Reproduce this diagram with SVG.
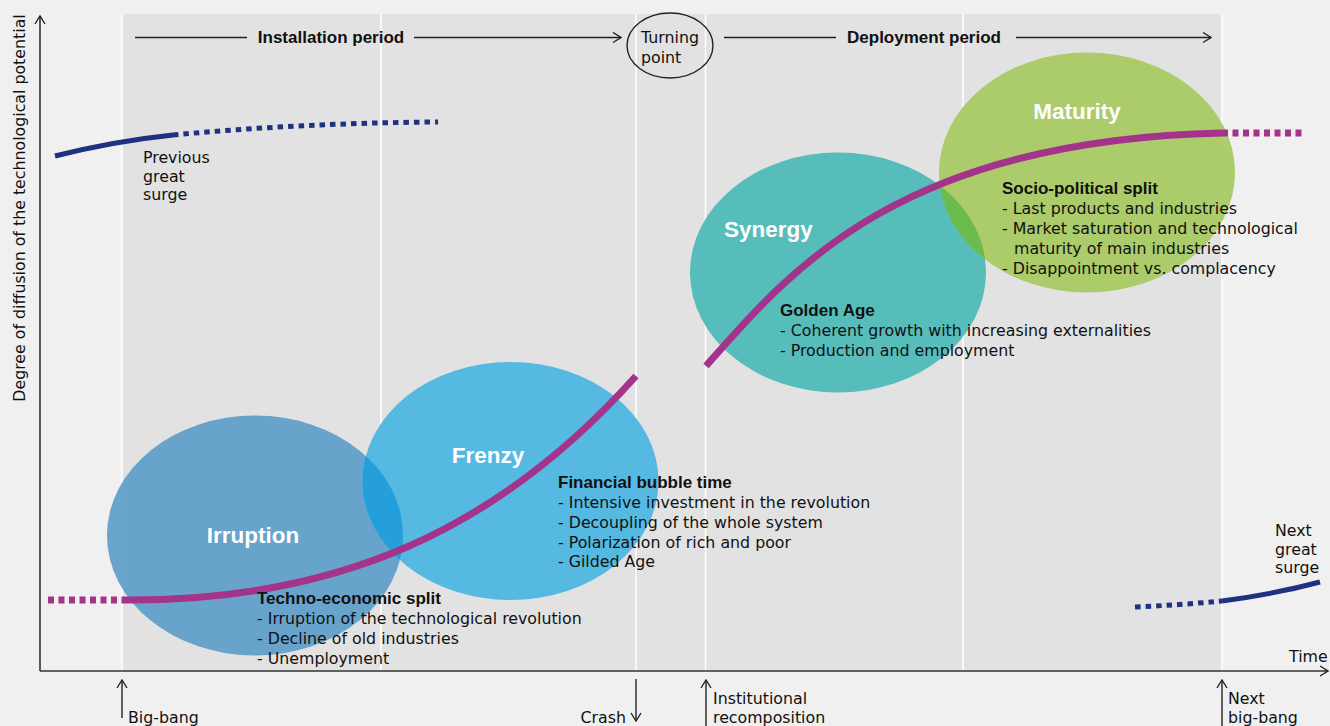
<svg xmlns="http://www.w3.org/2000/svg" width="1330" height="726" viewBox="0 0 1330 726">
<style>
text{font-family:"Liberation Sans","DejaVu Sans",sans-serif;fill:#111}
.t{font-family:"DejaVu Sans","Liberation Sans",sans-serif;font-size:15.8px}
.b{font-size:17px;font-weight:bold}
.big{font-size:22.5px;font-weight:bold;fill:#fff}
.ax{stroke:#333;stroke-width:1.6;fill:none}
.vl{stroke:#fff;stroke-width:1.5}
.mg{stroke:#a3338b;stroke-width:7;fill:none}
.mgd{stroke:#a3338b;stroke-width:7;fill:none;stroke-dasharray:6 4.5}
.nv{stroke:#1f3282;stroke-width:5;fill:none}
.nvd{stroke:#1f3282;stroke-width:5;fill:none;stroke-dasharray:5.5 5}
.ar{stroke:#222;stroke-width:1.4;fill:none}
</style>
<defs>
<marker id="chev" viewBox="0 0 10 12" refX="9" refY="6" markerWidth="10" markerHeight="12" markerUnits="userSpaceOnUse" orient="auto">
<path d="M1,1 L9,6 L1,11" fill="none" stroke="#222" stroke-width="1.4"/>
</marker>
<clipPath id="cIrr"><ellipse cx="255" cy="535.5" rx="148" ry="120"/></clipPath>
<clipPath id="cSyn"><ellipse cx="838" cy="272.5" rx="148" ry="120"/></clipPath>
</defs>
<rect width="1330" height="726" fill="#f0f0f0"/>
<rect x="122" y="14" width="1100" height="657" fill="#e2e2e2"/>
<g id="gridlines">
<line class="vl" x1="122" y1="14" x2="122" y2="671"/>
<line class="vl" x1="381" y1="14" x2="381" y2="671"/>
<line class="vl" x1="636" y1="14" x2="636" y2="671"/>
<line class="vl" x1="705.5" y1="14" x2="705.5" y2="671"/>
<line class="vl" x1="963" y1="14" x2="963" y2="671"/>
<line class="vl" x1="1222" y1="14" x2="1222" y2="671"/>
</g>
<g id="irruption">
<ellipse cx="255" cy="535.5" rx="148" ry="120" fill="#5f9ec9" fill-opacity="0.94"/>
<text class="big" x="253" y="543" text-anchor="middle">Irruption</text>
</g>
<g id="frenzy">
<ellipse cx="510.5" cy="481" rx="148" ry="119" fill="#4bb6e1" fill-opacity="0.94"/>
<ellipse cx="510.5" cy="481" rx="148" ry="119" fill="#259fd9" clip-path="url(#cIrr)"/>
<text class="big" x="488" y="463" text-anchor="middle">Frenzy</text>
</g>
<g id="synergy">
<ellipse cx="838" cy="272.5" rx="148" ry="120" fill="#4dbab8" fill-opacity="0.94"/>
<text class="big" x="724" y="237">Synergy</text>
</g>
<g id="maturity">
<ellipse cx="1087" cy="172.5" rx="148" ry="120" fill="#a8c962" fill-opacity="0.94"/>
<ellipse cx="1087" cy="172.5" rx="148" ry="120" fill="#6cbb4f" clip-path="url(#cSyn)"/>
<text class="big" x="1077" y="119" text-anchor="middle">Maturity</text>
</g>
<g id="connectors">
<path class="ax" d="M40,671 V16" marker-end="url(#chev)"/>
<path class="ax" d="M40,671 H1328" marker-end="url(#chev)"/>
<path class="nv" d="M55,156 Q115,141 173,135"/>
<path class="nvd" d="M173,135 Q300,123 438,122"/>
<path class="nvd" d="M1135,607 Q1180,605 1222,601"/>
<path class="nv" d="M1222,601 Q1275,594 1320,582"/>
<path class="mgd" d="M48,600 H122"/>
<path class="mg" d="M122,600 C340,602 500,528 636,376"/>
<path class="mg" d="M706,366 C790,270 900,140 1222,133"/>
<path class="mgd" d="M1222,133 H1306"/>
<path class="ar" d="M135,37.5 H247"/>
<path class="ar" d="M414,37.5 H621" marker-end="url(#chev)"/>
<path class="ar" d="M724,37.5 H836"/>
<path class="ar" d="M1016,37.5 H1211" marker-end="url(#chev)"/>
<path class="ar" d="M122,718 V680" marker-end="url(#chev)"/>
<path class="ar" d="M636,679 V721" marker-end="url(#chev)"/>
<path class="ar" d="M706,726 V680" marker-end="url(#chev)"/>
<path class="ar" d="M1222,726 V680" marker-end="url(#chev)"/>
</g>
<g id="turning-point">
<ellipse cx="670" cy="45.5" rx="43" ry="32.5" fill="none" stroke="#222" stroke-width="1.4"/>
<text class="t" x="641" y="43">Turning</text>
<text class="t" x="641" y="63">point</text>
</g>
<g id="period-labels">
<text class="b" x="331" y="43" text-anchor="middle">Installation period</text>
<text class="b" x="924" y="43" text-anchor="middle">Deployment period</text>
</g>
<g id="axis-labels">
<text class="t" transform="translate(25,208) rotate(-90)" text-anchor="middle">Degree of diffusion of the technological potential</text>
<text class="t" x="1289" y="662">Time</text>
</g>
<g id="surge-labels">
<text class="t" x="143" y="163">Previous</text>
<text class="t" x="143" y="182">great</text>
<text class="t" x="143" y="200">surge</text>
<text class="t" x="1275" y="536">Next</text>
<text class="t" x="1275" y="555">great</text>
<text class="t" x="1275" y="573">surge</text>
</g>
<g id="event-labels">
<text class="t" x="128" y="723">Big-bang</text>
<text class="t" x="626" y="723" text-anchor="end">Crash</text>
<text class="t" x="713" y="704">Institutional</text>
<text class="t" x="713" y="723">recomposition</text>
<text class="t" x="1228" y="704">Next</text>
<text class="t" x="1228" y="723">big-bang</text>
</g>
<g id="techno-economic-split">
<text class="b" x="257" y="604">Techno-economic split</text>
<text class="t" x="257" y="624">- Irruption of the technological revolution</text>
<text class="t" x="257" y="644">- Decline of old industries</text>
<text class="t" x="257" y="664">- Unemployment</text>
</g>
<g id="financial-bubble-time">
<text class="b" x="558" y="488">Financial bubble time</text>
<text class="t" x="558" y="508">- Intensive investment in the revolution</text>
<text class="t" x="558" y="528">- Decoupling of the whole system</text>
<text class="t" x="558" y="548">- Polarization of rich and poor</text>
<text class="t" x="558" y="567">- Gilded Age</text>
</g>
<g id="golden-age">
<text class="b" x="780" y="316">Golden Age</text>
<text class="t" x="780" y="336">- Coherent growth with increasing externalities</text>
<text class="t" x="780" y="356">- Production and employment</text>
</g>
<g id="socio-political-split">
<text class="b" x="1002" y="194">Socio-political split</text>
<text class="t" x="1002" y="214">- Last products and industries</text>
<text class="t" x="1002" y="234">- Market saturation and technological</text>
<text class="t" x="1014" y="254">maturity of main industries</text>
<text class="t" x="1002" y="274">- Disappointment vs. complacency</text>
</g>
</svg>
